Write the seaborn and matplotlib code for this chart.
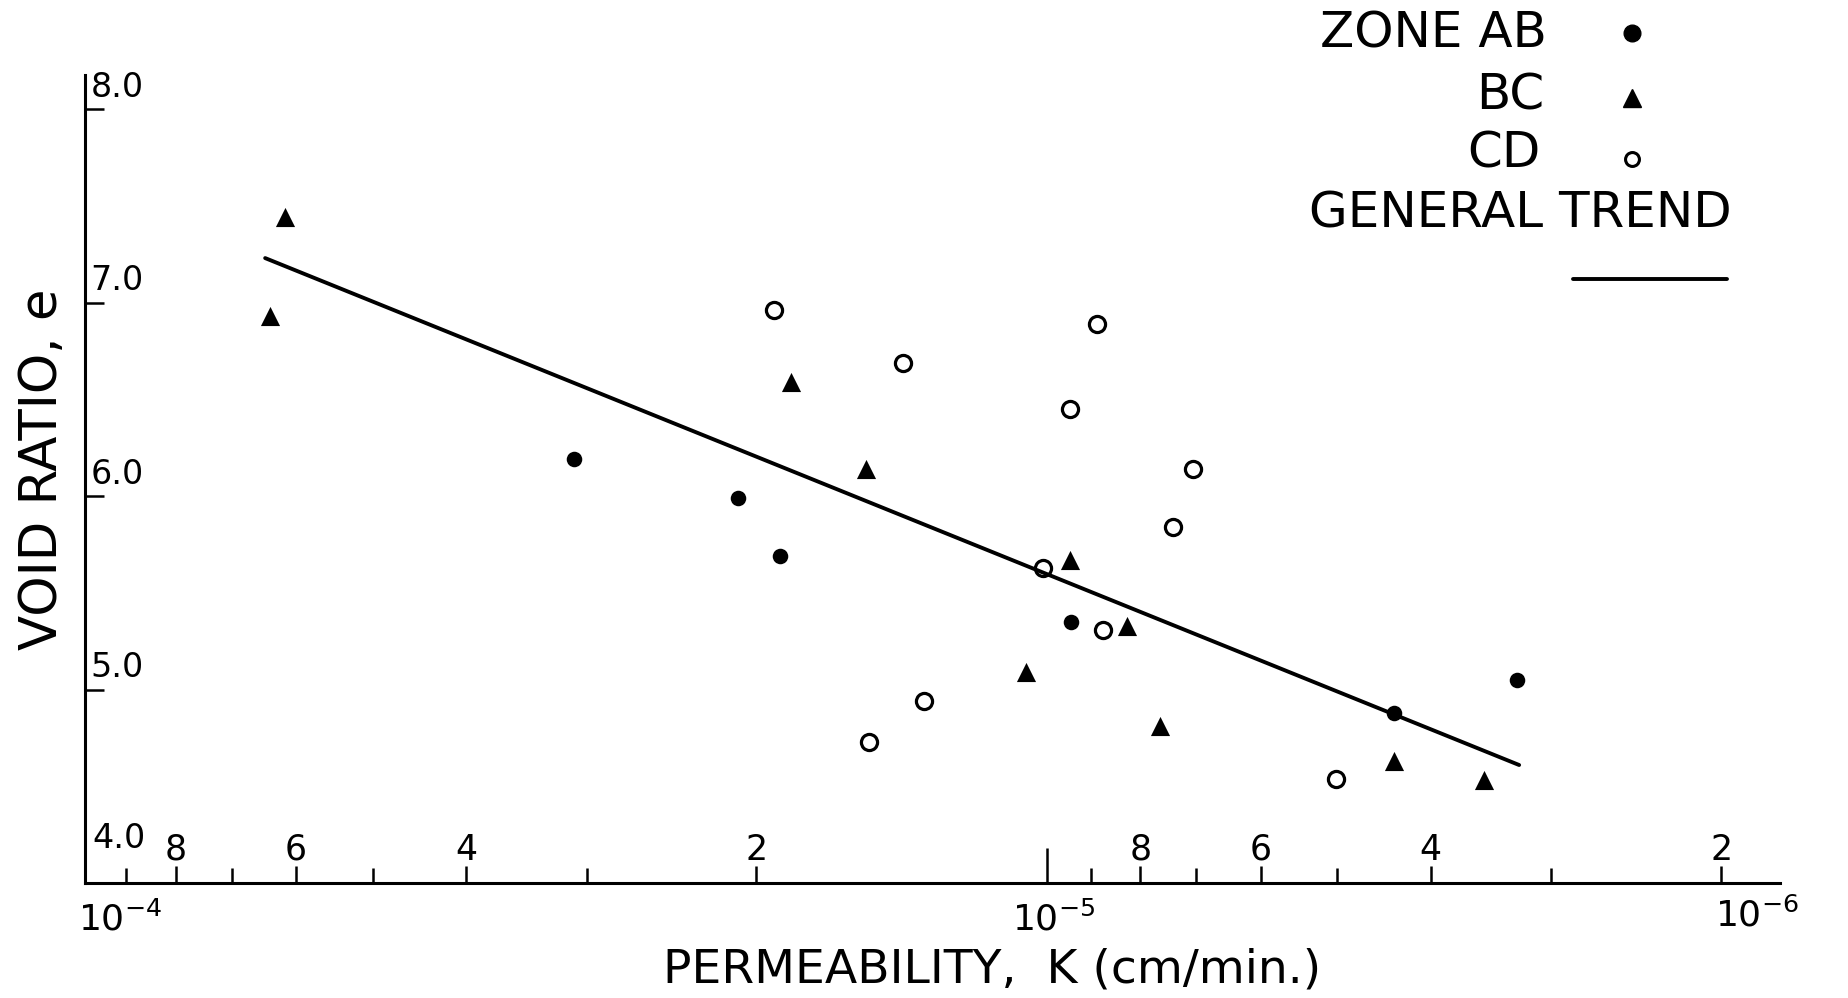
import numpy as np
import pandas as pd
import matplotlib
matplotlib.use("Agg")
import matplotlib.pyplot as plt
import seaborn as sns
from matplotlib import font_manager
from matplotlib.lines import Line2D

# DATA

ab_k = [3.09e-5, 2.09e-5, 1.89e-5, 9.44e-6, 4.37e-6, 3.26e-6]
ab_e = [6.19, 5.99, 5.69, 5.35, 4.88, 5.05]

bc_k = [6.16e-5, 6.38e-5, 1.84e-5, 1.54e-5, 9.47e-6, 1.05e-5,
        8.26e-6, 7.63e-6, 4.37e-6, 3.52e-6]
bc_e = [7.44, 6.93, 6.59, 6.14, 5.67, 5.09, 5.33, 4.81, 4.63, 4.53]

cd_k = [1.92e-5, 1.41e-5, 8.87e-6, 9.47e-6, 7.06e-6, 7.40e-6,
        1.01e-5, 8.75e-6, 1.34e-5, 1.53e-5, 5.01e-6]
cd_e = [6.96, 6.69, 6.89, 6.45, 6.14, 5.84, 5.63, 5.31, 4.94, 4.73, 4.54]

trend_k = [6.46e-5, 3.24e-6]
trend_e = [7.23, 4.61]

x_major = [8e-5, 6e-5, 4e-5, 2e-5, 1e-5, 8e-6, 6e-6, 4e-6, 2e-6]
x_major_labels = ["8", "6", "4", "2", "", "8", "6", "4", "2"]
x_minor = [9e-5, 7e-5, 5e-5, 3e-5, 9e-6, 7e-6, 5e-6, 3e-6]

y_ticks = [5.0, 6.0, 7.0, 8.0]
y_labels = ["5.0", "6.0", "7.0", "8.0"]

# FONTS / STYLE

sns.set_style("ticks")
plt.rcParams["font.family"] = ["DejaVu Sans"]
plt.rcParams["mathtext.fontset"] = "dejavusans"
plt.rcParams["text.color"] = "black"
plt.rcParams["axes.labelcolor"] = "black"

names = {f.name for f in font_manager.fontManager.ttflist}
if "Liberation Sans Narrow" in names:
    title_font, x_title_size, y_title_size = "Liberation Sans Narrow", 40, 43
else:
    title_font, x_title_size, y_title_size = "DejaVu Sans", 34, 37

# FIGURE

fig = plt.figure(figsize=(18.48, 9.98), dpi=100)
ax = fig.add_axes([0.046, 0.1152, 0.917, 0.8096])
ax.set_xscale("log")

ab = pd.DataFrame({"k": ab_k, "e": ab_e})
bc = pd.DataFrame({"k": bc_k, "e": bc_e})
cd = pd.DataFrame({"k": cd_k, "e": cd_e})
trend = pd.DataFrame({"k": trend_k, "e": trend_e})

sns.scatterplot(data=ab, x="k", y="e", ax=ax, marker="o", color="black",
                s=125, edgecolor="black", linewidth=0, zorder=3)
sns.scatterplot(data=bc, x="k", y="e", ax=ax, marker="^", color="black",
                s=190, edgecolor="black", linewidth=0, zorder=3)
sns.scatterplot(data=cd, x="k", y="e", ax=ax, marker="o", color="white",
                s=135, edgecolor="black", linewidth=2.3, zorder=3)
sns.lineplot(data=trend, x="k", y="e", ax=ax, color="black",
             linewidth=2.8, zorder=4)

ax.set_xlim(9.93e-5, 1.74e-6)
ax.set_ylim(4.0, 8.176)
ax.set_xlabel("")
ax.set_ylabel("")

for side in ["top", "right"]:
    ax.spines[side].set_visible(False)
for side in ["left", "bottom"]:
    ax.spines[side].set_linewidth(2.2)
    ax.spines[side].set_color("black")

# X AXIS - ticks point up, numbers above the line

ax.set_xticks(x_major)
ax.set_xticks(x_minor, minor=True)
ax.tick_params(axis="x", which="both", direction="in", labelbottom=False,
               width=1.8, color="black")
ax.tick_params(axis="x", which="major", length=12)
ax.tick_params(axis="x", which="minor", length=10.5)
ax.xaxis.get_major_ticks()[4].tick1line.set_markersize(25)

for k, lbl in zip(x_major, x_major_labels):
    ax.annotate(lbl, xy=(k, 0), xycoords=("data", "axes fraction"),
                xytext=(0, 24), textcoords="offset points",
                ha="center", va="center", fontsize=25)

ax.annotate(r"$10^{-4}$", xy=(0, 0), xycoords="axes fraction",
            xytext=(-5, -26), textcoords="offset points",
            ha="left", va="center", fontsize=26)
ax.annotate(r"$10^{-5}$", xy=(1e-5, 0), xycoords=("data", "axes fraction"),
            xytext=(5, -26), textcoords="offset points",
            ha="center", va="center", fontsize=26)
ax.annotate(r"$10^{-6}$", xy=(1, 0), xycoords="axes fraction",
            xytext=(14, -23), textcoords="offset points",
            ha="right", va="center", fontsize=26)

# Y AXIS - short ticks to the right, numbers sitting on them

ax.set_yticks(y_ticks)
ax.tick_params(axis="y", direction="in", length=14, width=1.8,
               color="black", labelleft=False)

for v, lbl in zip(y_ticks, y_labels):
    ax.annotate(lbl, xy=(0, v), xycoords=("axes fraction", "data"),
                xytext=(4, 4), textcoords="offset points",
                ha="left", va="bottom", fontsize=24)

ax.annotate("4.0", xy=(0, 4.0), xycoords=("axes fraction", "data"),
            xytext=(5, 20), textcoords="offset points",
            ha="left", va="bottom", fontsize=24)

# AXIS TITLES

fig.text(0.537, 0.028, "PERMEABILITY,  K (cm/min.)", ha="center",
         va="center", fontsize=x_title_size, family=title_font)
fig.text(0.023, 0.53, "VOID RATIO, e", ha="center", va="center",
         rotation=90, fontsize=y_title_size, family=title_font)

# LEGEND (drawn by hand like the original lettering)

fig.text(1547 / 1848, 1 - 33 / 998, "ZONE AB", ha="right", va="center", fontsize=36)
fig.text(1544 / 1848, 1 - 95 / 998, "BC", ha="right", va="center", fontsize=36)
fig.text(1541 / 1848, 1 - 154 / 998, "CD", ha="right", va="center", fontsize=36)
fig.text(1520 / 1848, 1 - 214 / 998, "GENERAL TREND", ha="center", va="center", fontsize=36)

mx = 1632 / 1848
fig.add_artist(Line2D([mx], [1 - 33 / 998], marker="o", color="black",
                      markersize=12, linestyle="none"))
fig.add_artist(Line2D([mx], [1 - 98 / 998], marker="^", color="black",
                      markersize=13, linestyle="none"))
fig.add_artist(Line2D([mx], [1 - 159 / 998], marker="o", markerfacecolor="white",
                      markeredgecolor="black", markeredgewidth=2.2,
                      markersize=10, linestyle="none"))
fig.add_artist(Line2D([1573 / 1848, 1727 / 1848], [1 - 279 / 998, 1 - 279 / 998],
                      color="black", linewidth=2.8))

fig.savefig("out.png", dpi=100, facecolor="white")
